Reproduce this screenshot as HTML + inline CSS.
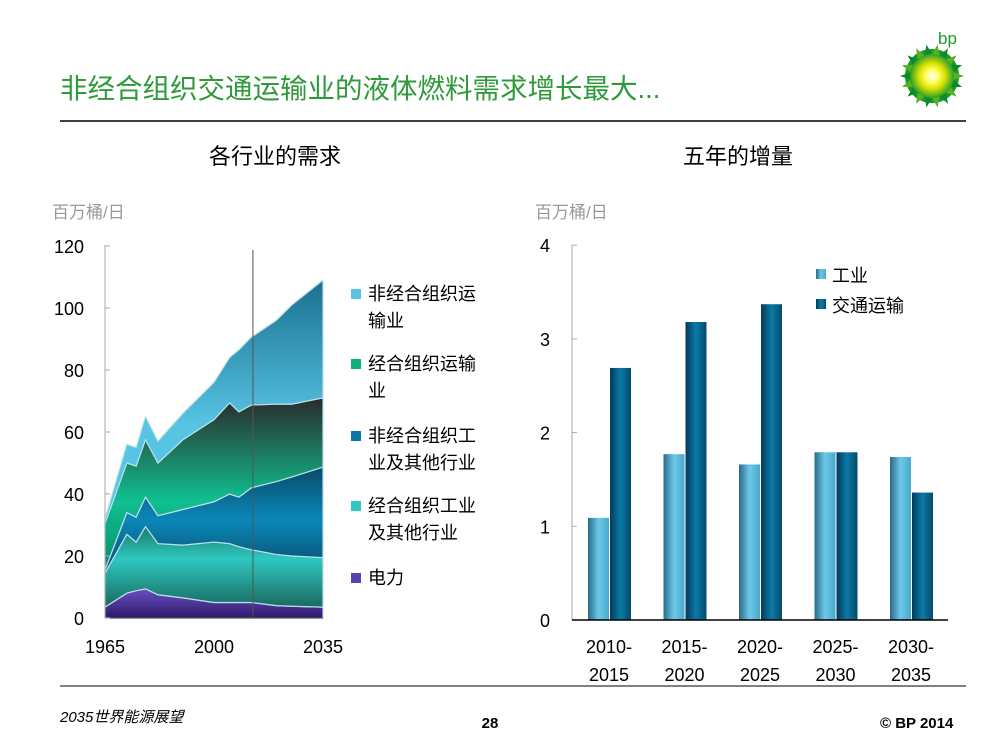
<!DOCTYPE html>
<html><head><meta charset="utf-8">
<style>
body{margin:0;width:1000px;height:750px;background:#fff;overflow:hidden;font-family:"Liberation Sans","Noto Sans CJK SC",sans-serif;}
svg{position:absolute;left:0;top:0}
</style></head>
<body>
<svg id="s" width="1000" height="750">
<defs>
<linearGradient id="gPow" x1="0" y1="0" x2="0" y2="1"><stop offset="0" stop-color="#6a4fc0"/><stop offset="1" stop-color="#2e1a6a"/></linearGradient>
<linearGradient id="gOI" x1="0" y1="0" x2="0" y2="1"><stop offset="0" stop-color="#1c7a6a"/><stop offset="0.4" stop-color="#2ec8c0"/><stop offset="1" stop-color="#1a6a60"/></linearGradient>
<linearGradient id="gNI" x1="0" y1="0" x2="0" y2="1"><stop offset="0" stop-color="#0a4a6a"/><stop offset="0.5" stop-color="#0a88b8"/><stop offset="1" stop-color="#0a4a6a"/></linearGradient>
<linearGradient id="gOT" x1="0" y1="0" x2="0" y2="1"><stop offset="0" stop-color="#2a2a2a"/><stop offset="0.6" stop-color="#10c090"/><stop offset="1" stop-color="#0a8a6a"/></linearGradient>
<linearGradient id="gNT" x1="0" y1="0" x2="0" y2="1"><stop offset="0" stop-color="#1a7090"/><stop offset="0.6" stop-color="#58c4e4"/><stop offset="1" stop-color="#58c4e4"/></linearGradient>
<linearGradient id="gBI" x1="0" y1="0" x2="1" y2="0"><stop offset="0" stop-color="#2a6a88"/><stop offset="0.5" stop-color="#6cc8e8"/><stop offset="1" stop-color="#4aa8cc"/></linearGradient>
<linearGradient id="gBT" x1="0" y1="0" x2="1" y2="0"><stop offset="0" stop-color="#053a58"/><stop offset="0.5" stop-color="#0a7aa8"/><stop offset="1" stop-color="#064a6a"/></linearGradient>
<radialGradient id="gSun"><stop offset="0" stop-color="#fff"/><stop offset="0.3" stop-color="#ffff60"/><stop offset="0.6" stop-color="#d8e000"/><stop offset="1" stop-color="#2aa02a"/></radialGradient>
</defs>
<text x="60" y="98" font-size="27.5" fill="#2e9a3a">非经合组织交通运输业的液体燃料需求增长最大...</text>
<line x1="60" y1="121" x2="966" y2="121" stroke="#000" stroke-width="1.5"/>
<g>
<text x="938" y="44" font-size="17" fill="#1a9a2a">bp</text>
<g id="sun"></g>
</g>
<text x="275" y="164" font-size="22" text-anchor="middle">各行业的需求</text>
<text x="738" y="164" font-size="22" text-anchor="middle">五年的增量</text>
<text x="52" y="218" font-size="17" fill="#999">百万桶/日</text>
<text x="535" y="218" font-size="17" fill="#999">百万桶/日</text>
<g id="left"></g>
<g id="right"></g>
<line x1="60" y1="686" x2="966" y2="686" stroke="#000" stroke-width="1"/>
<text x="60" y="722" font-size="15" font-style="italic">2035世界能源展望</text>
<text x="490" y="728" font-size="15" font-weight="bold" text-anchor="middle">28</text>
<text x="880" y="728" font-size="15" font-weight="bold">© BP 2014</text>
</svg>
<script>
const NS="http://www.w3.org/2000/svg";
function mk(p,t,a){const e=document.createElementNS(NS,t);for(const k in a)e.setAttribute(k,a[k]);p.appendChild(e);return e;}
// logo
const sun=document.getElementById('sun');
mk(sun,'circle',{cx:932,cy:76,r:27,fill:'#1a9a2a'});
for(let i=0;i<18;i++){const a=i*20*Math.PI/180;const cx=932,cy=76;
 mk(sun,'polygon',{points:`${cx+32*Math.cos(a)},${cy+32*Math.sin(a)} ${cx+21*Math.cos(a+0.2)},${cy+21*Math.sin(a+0.2)} ${cx+21*Math.cos(a-0.2)},${cy+21*Math.sin(a-0.2)}`,fill:i%2?'#0e8a2a':'#5ab020'});}
mk(sun,'circle',{cx:932,cy:76,r:22,fill:'url(#gSun)'});

const years=[1965,1972,1975,1978,1982,1990,2000,2005,2008,2012,2020,2025,2035];
const power=[3.5,8,8.8,9.4,7.5,6.5,5,5,5,5,4,3.8,3.5];
const oecdInd=[11,19,15.7,20.1,16.5,17,19.5,19,18,17,16.5,16.2,16];
const nonOecdInd=[1,7,8,9.5,9,11.5,13,16,16,20,23.5,25.5,29.2];
const oecdTrans=[15,16,16.5,18.5,17,22.5,26.5,29.4,27.5,26.7,25,23.5,22.3];
const nonOecdTrans=[1.5,6,6,7.5,7,8.5,12,14.6,20,21.9,27,32,38];
const leftTicks=[0,20,40,60,80,100,120];
const leftXTicks=[1965,2000,2035];

const L=document.getElementById('left');
const lx=y=>105+(y-1965)*(323-105)/70, ly=v=>618-v*3.1;
const series=[power,oecdInd,nonOecdInd,oecdTrans,nonOecdTrans];
const fills=['url(#gPow)','url(#gOI)','url(#gNI)','url(#gOT)','url(#gNT)'];
const layerIds=['area-power','area-oecd-industry','area-non-oecd-industry','area-oecd-transport','area-non-oecd-transport'];
let base=years.map(()=>0);
series.forEach((s,k)=>{
 const top=base.map((b,i)=>b+s[i]);
 let d='M'+years.map((y,i)=>lx(y)+','+ly(top[i])).join(' L');
 for(let i=years.length-1;i>=0;i--)d+=' L'+lx(years[i])+','+ly(base[i]);
 const p=mk(L,'path',{d:d+'Z',fill:fills[k],stroke:'#b8e0ea','stroke-width':1.2});
 
 
 base=top;
});
const vl=mk(L,'line',{x1:lx(2012.5),y1:250,x2:lx(2012.5),y2:618,stroke:'#555','stroke-width':1});


const la=mk(L,'line',{x1:105,y1:245,x2:105,y2:618,stroke:'#aaa'});


const lb=mk(L,'line',{x1:105,y1:618,x2:323,y2:618,stroke:'#333'});


leftTicks.forEach(v=>{
 const t=mk(L,'text',{x:84,y:ly(v)+7,'font-size':18,'text-anchor':'end'});t.textContent=v;
 
 
 mk(L,'line',{x1:105,y1:ly(v),x2:110,y2:ly(v),stroke:'#aaa'});
});
leftXTicks.forEach(y=>{
 const t=mk(L,'text',{x:lx(y),y:653,'font-size':18,'text-anchor':'middle'});t.textContent=y;
 
 
});
const legL=[[ '非经合组织运','输业',300,'#58c4e4'],['经合组织运输','业',370,'#10b080'],['非经合组织工','业及其他行业',442,'#0a78a8'],['经合组织工业','及其他行业',512,'#2ec8c0'],['电力',null,584,'#5a40b0']];
legL.forEach(e=>{
 const g=mk(L,'g',{});
 
 
 mk(g,'rect',{x:351,y:e[2]-11,width:10,height:10,fill:e[3]});
 const t=mk(g,'text',{x:368,y:e[2],'font-size':18});t.textContent=e[0];
 if(e[1]){const t2=mk(g,'text',{x:368,y:e[2]+27,'font-size':18});t2.textContent=e[1];}
});

const periods=[['2010-','2015'],['2015-','2020'],['2020-','2025'],['2025-','2030'],['2030-','2035']];
const industry=[1.09,1.77,1.66,1.79,1.74];
const transport=[2.69,3.18,3.37,1.79,1.36];
const rightTicks=[0,1,2,3,4];
const R=document.getElementById('right');
const ry=v=>620-v*93.7, rc=i=>609+i*75.5;
const ra=mk(R,'line',{x1:572,y1:245,x2:572,y2:620,stroke:'#aaa'});


rightTicks.forEach(v=>{
 const t=mk(R,'text',{x:550,y:ry(v)+7,'font-size':18,'text-anchor':'end'});t.textContent=v;
 
 
 mk(R,'line',{x1:572,y1:ry(v),x2:577,y2:ry(v),stroke:'#aaa'});
});
periods.forEach((p,i)=>{
 const b1=mk(R,'rect',{x:rc(i)-21,y:ry(industry[i]),width:21,height:620-ry(industry[i]),fill:'url(#gBI)'});
 
 
 const b2=mk(R,'rect',{x:rc(i)+1,y:ry(transport[i]),width:21,height:620-ry(transport[i]),fill:'url(#gBT)'});
 
 
 const t=mk(R,'text',{x:rc(i),y:653,'font-size':18,'text-anchor':'middle'});t.textContent=p[0];
 
 
 const t2=mk(R,'text',{x:rc(i),y:681,'font-size':18,'text-anchor':'middle'});t2.textContent=p[1];
 
 
});
const rb=mk(R,'line',{x1:572,y1:620,x2:948,y2:620,stroke:'#000','stroke-width':1.5});


[['工业','url(#gBI)',282],['交通运输','url(#gBT)',312]].forEach(e=>{
 const g=mk(R,'g',{});
 
 
 mk(g,'rect',{x:816,y:e[2]-13,width:10,height:10,fill:e[1]});
 const t=mk(g,'text',{x:832,y:e[2],'font-size':18});t.textContent=e[0];
});
</script>
</body></html>
